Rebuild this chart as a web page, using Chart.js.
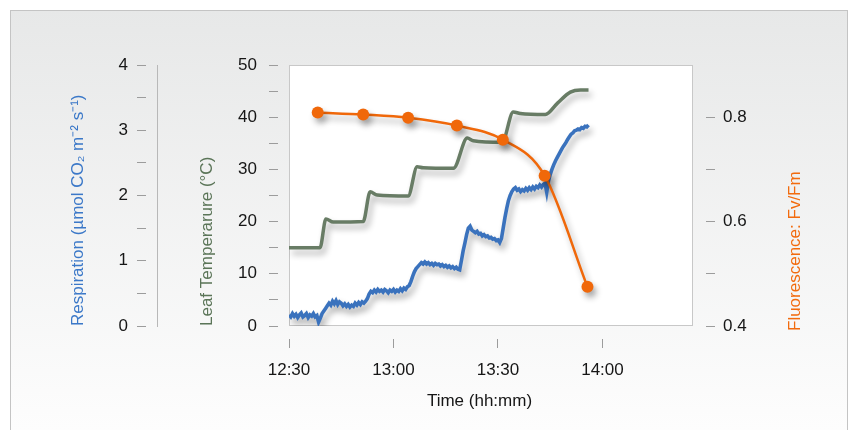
<!DOCTYPE html>
<html>
<head>
<meta charset="utf-8">
<script src="https://cdn.jsdelivr.net/npm/chart.js@4.4.1/dist/chart.umd.min.js"></script>
<style>
  html,body{margin:0;padding:0;background:#fff;}
  #wrap{width:856px;height:430px;}
</style>
</head>
<body>
<div id="wrap"><canvas id="c" width="856" height="430"></canvas></div>
<script>
/* leaf respiration / temperature / Fv/Fm run, 12:30 - 14:00
   x values are minutes after 12:30 */
const START_HH = 12, START_MM = 30;
const X_MAX = 116;
const X_TICK_STEP = 30;

// leaf temperature (°C), stepped ramp
const tempTime = [0, 8.9, 10.6, 12.7, 21.3, 23.3, 25.3, 34.2, 36.8, 38.5, 47.2, 51.2, 52.9, 61.2, 64.4, 66.4, 73.6, 77.1, 80.8, 83.7, 86];
const tempVals = [15, 15, 20.5, 19.9, 20, 25.7, 25.1, 24.9, 30.5, 30.3, 30.2, 36, 35.5, 35.2, 41, 40.7, 40.5, 42.7, 44.8, 45.2, 45.2];

// respiration (µmol CO2 m-2 s-1), logged every 0.5 min from 12:30
const RESP_START = 0, RESP_STEP = 0.5;
const respVals = [
  0.17,0.14,0.19,0.15,0.18,0.13,0.17,0.20,0.14,0.16,0.19,0.13,0.17,0.15,0.19,0.14,0.16,0.06,
  0.12,0.19,0.23,0.27,0.31,0.35,0.32,0.38,0.34,0.39,0.33,0.37,0.35,0.31,0.34,0.30,0.33,0.29,
  0.32,0.30,0.35,0.32,0.36,0.33,0.37,0.35,0.38,0.42,0.49,0.53,0.51,0.55,0.52,0.56,0.53,0.55,
  0.52,0.56,0.54,0.51,0.55,0.53,0.56,0.52,0.55,0.53,0.57,0.54,0.58,0.56,0.60,0.62,0.68,0.76,
  0.83,0.88,0.91,0.94,0.97,0.95,0.98,0.95,0.97,0.94,0.96,0.93,0.96,0.94,0.95,0.92,0.94,0.91,
  0.93,0.90,0.92,0.89,0.91,0.88,0.90,0.87,0.86,1.00,1.15,1.27,1.40,1.50,1.53,1.47,1.45,1.43,
  1.45,1.41,1.42,1.38,1.40,1.37,1.38,1.35,1.36,1.33,1.34,1.31,1.32,1.28,1.34,1.50,1.66,1.80,
  1.92,2.00,2.06,2.10,2.12,2.08,2.10,2.06,2.09,2.07,2.11,2.08,2.12,2.09,2.13,2.10,2.14,2.12,
  2.16,2.13,2.17,2.19,2.05,2.22,2.32,2.40,2.47,2.53,2.58,2.63,2.68,2.73,2.77,2.81,2.86,2.90,
  2.94,2.96,2.99,3.00,3.02,3.01,3.04,3.03,3.06,3.05,3.08
];

// chlorophyll fluorescence Fv/Fm
const fluorTime = [8.25, 21.3, 34.2, 48.2, 61.4, 73.4, 85.7];
const fluorVals = [0.809, 0.805, 0.799, 0.784, 0.757, 0.688, 0.475];

const C_BLUE = "#3a72bd", C_GREEN = "#687c65", C_ORANGE = "#f0680a";
const T_BLUE = "#3b78c8", T_GREEN = "#5b7558", T_ORANGE = "#f26b0e";
const TICK_C = "#9c9c9c", TXT = "#161616";
const FONT = {family: "'Liberation Sans', Arial, sans-serif", size: 17};

Chart.defaults.font.family = FONT.family;
Chart.defaults.font.size = FONT.size;
Chart.defaults.color = TXT;

function hhmm(v){
  const m = START_HH*60 + START_MM + v;
  return Math.floor(m/60) + ":" + String(m%60).padStart(2,"0");
}

const pts = (xs, ys)=> ys.map((y,i)=>({x: xs[i], y}));
const respPts = respVals.map((y,i)=>({x: RESP_START + i*RESP_STEP, y}));

// panel background, plot frame, drop shadows, extra titles
const deco = {
  id: "deco",
  beforeDraw(chart){
    const {ctx, chartArea: a} = chart;
    ctx.save();
    const g = ctx.createLinearGradient(0, 10, 0, 430);
    g.addColorStop(0, "#e7e8e8");
    g.addColorStop(1, "#fdfdfd");
    ctx.fillStyle = g;
    ctx.fillRect(10, 10, 837, 430);
    ctx.strokeStyle = "#c4c4c4";
    ctx.lineWidth = 1;
    ctx.strokeRect(10.5, 10.5, 837, 430);
    ctx.fillStyle = "#fff";
    ctx.fillRect(a.left, a.top, a.right-a.left, a.bottom-a.top);
    ctx.strokeStyle = "#c8c8c8";
    ctx.strokeRect(a.left+0.5, a.top+0.5, a.right-a.left-1, a.bottom-a.top-1);
    ctx.restore();
  },
  beforeDatasetsDraw(chart){
    const ctx = chart.ctx;
    ctx.save();
    ctx.shadowColor = "rgba(0,0,0,0.32)";
    ctx.shadowBlur = 6;
    ctx.shadowOffsetX = 3;
    ctx.shadowOffsetY = 5;
  },
  afterDatasetsDraw(chart){
    chart.ctx.restore();
  },
  afterDraw(chart){
    const {ctx} = chart;
    ctx.save();
    ctx.font = `${FONT.size}px ${FONT.family}`;
    ctx.fillStyle = TXT;
    ctx.textAlign = "center";
    ctx.textBaseline = "middle";
    ctx.fillText("Time (hh:mm)", 479.5, 401);
    ctx.translate(795, 331);
    ctx.rotate(-Math.PI/2);
    ctx.textAlign = "left";
    ctx.fillStyle = T_ORANGE;
    ctx.fillText("Fluorescence: Fv/Fm", 0, 0);
    ctx.restore();
  }
};

const tickGrid = (len, dash)=>({
  drawOnChartArea: false, drawTicks: true, tickLength: len,
  tickBorderDash: dash, tickColor: TICK_C, tickWidth: 1
});

new Chart(document.getElementById("c"), {
  type: "line",
  data: {
    datasets: [
      {label: "Fv/Fm", data: pts(fluorTime, fluorVals), yAxisID: "yF",
       borderColor: C_ORANGE, backgroundColor: C_ORANGE, borderWidth: 2.5,
       pointRadius: 6, pointHoverRadius: 6, pointBorderWidth: 0, cubicInterpolationMode: "monotone"},
      {label: "Leaf temperature", data: pts(tempTime, tempVals), yAxisID: "yT",
       borderColor: C_GREEN, borderWidth: 3.5, pointRadius: 0, cubicInterpolationMode: "monotone"},
      {label: "Respiration", data: respPts, yAxisID: "yR",
       borderColor: C_BLUE, borderWidth: 3.6, pointRadius: 0, tension: 0}
    ]
  },
  options: {
    responsive: false,
    animation: false,
    devicePixelRatio: 1,
    layout: {padding: {left: 10, right: 10, top: 65, bottom: 10}},
    plugins: {legend: {display: false}, tooltip: {enabled: false}},
    scales: {
      x: {
        type: "linear", position: "bottom", min: 0, max: X_MAX,
        afterBuildTicks: s=>{ s.ticks = s.ticks.filter(t=>t.value % X_TICK_STEP === 0); },
        ticks: {stepSize: X_TICK_STEP, padding: 12, maxRotation: 0, autoSkip: false, callback: v=>hhmm(v)},
        grid: tickGrid(22, [0, 13, 9, 50]),
        border: {display: false},
        afterFit: s=>{ s.height = 94; }
      },
      yR: {
        position: "left", weight: 1, min: 0, max: 4,
        ticks: {stepSize: 0.5, padding: 9, callback: v=> Number.isInteger(v) ? v : ""},
        grid: tickGrid(20, [9, 50]),
        border: {display: true, color: "#b8b8b8", width: 1},
        title: {display: true, text: "Respiration (µmol CO₂ m⁻² s⁻¹)", color: T_BLUE, align: "start",
                padding: {top: 58, bottom: 0}},
        afterFit: s=>{ s.width = 147; }
      },
      yT: {
        position: "left", weight: 0, min: 0, max: 50,
        ticks: {stepSize: 5, padding: 12, callback: v=> v % 10 === 0 ? v : ""},
        grid: tickGrid(20, [9, 50]),
        border: {display: false},
        title: {display: true, text: "Leaf Temperarure (°C)", color: T_GREEN, align: "start",
                padding: {top: 40, bottom: 0}},
        afterFit: s=>{ s.width = 132; }
      },
      yF: {
        position: "right", min: 0.4, max: 0.9,
        afterBuildTicks: s=>{ s.ticks = s.ticks.filter(t=>t.value < 0.85); },
        ticks: {stepSize: 0.1, padding: 8, callback: v=> Math.round(v*10) % 2 === 0 ? v.toFixed(1) : ""},
        grid: tickGrid(22, [0, 13, 9, 50]),
        border: {display: false},
        afterFit: s=>{ s.width = 153; }
      }
    }
  },
  plugins: [deco]
});
</script>
</body>
</html>
